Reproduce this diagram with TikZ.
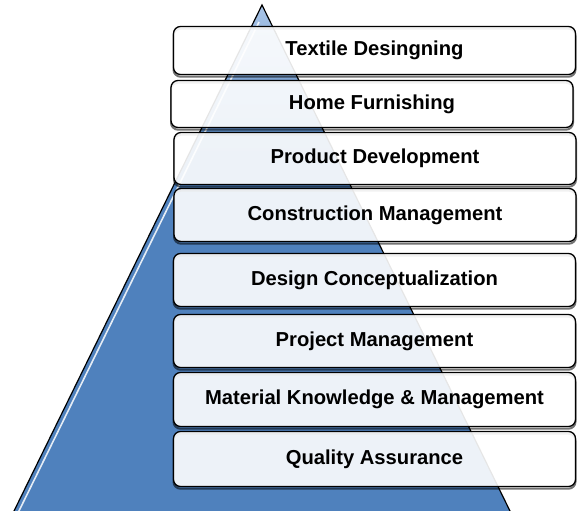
\documentclass[tikz,border=0pt]{standalone}
\usepackage{fontspec}
\setmainfont{Liberation Sans}
\definecolor{pyrblue}{HTML}{4F81BD}
\definecolor{pyrlight}{HTML}{A9C5E8}
\tikzset{
  skill/.style={draw=black, line width=1.3pt, rounded corners=7pt,
    fill=white, fill opacity=0.9, text opacity=1,
    minimum width=402pt, minimum height=50pt,
    font=\bfseries\fontsize{20.2}{23}\selectfont,
    preaction={draw=black, line width=2pt, draw opacity=0.55,
      transform canvas={yshift=-2.2pt}}},
}

\begin{document}
\begin{tikzpicture}[x=1pt,y=-1pt]
\useasboundingbox (0,0) rectangle (584,511);
\clip (0,0) rectangle (584,511);

% Pyramid behind the boxes
\coordinate (apex) at (262,5);
\coordinate (baseL) at (-10,560);
\coordinate (baseR) at (534,560);
\fill[pyrblue] (apex) -- (baseL) -- (baseR) -- cycle;
% lighter tip
\shade[top color=pyrlight, bottom color=pyrblue] (apex) -- (188.5,155) -- (335.5,155) -- cycle;
\draw[line width=1.2pt] (apex) -- (baseL) -- (baseR) -- cycle;
\draw[white, line width=1.6pt, opacity=0.85] (259,22) -- (17,515);

% Skill boxes, top to bottom
\node[skill, minimum height=48pt] (textile) at (374.5,50.5) {Textile Desingning};
\node[skill, minimum height=47pt] (home) at (372,104) {Home Furnishing};
\node[skill, minimum height=52pt] (product) at (375,158.5) {Product Development};
\node[skill, minimum height=53pt] (construction) at (375,215) {Construction Management};
\node[skill, minimum height=53pt] (design) at (374.5,280) {Design Conceptualization};
\node[skill, minimum height=53pt] (project) at (374.5,341) {Project Management};
\node[skill, minimum height=54pt] (material) at (374.5,399.5) {Material Knowledge \& Management};
\node[skill, minimum height=55pt] (quality) at (374.5,459) {Quality Assurance};

\end{tikzpicture}
\end{document}
